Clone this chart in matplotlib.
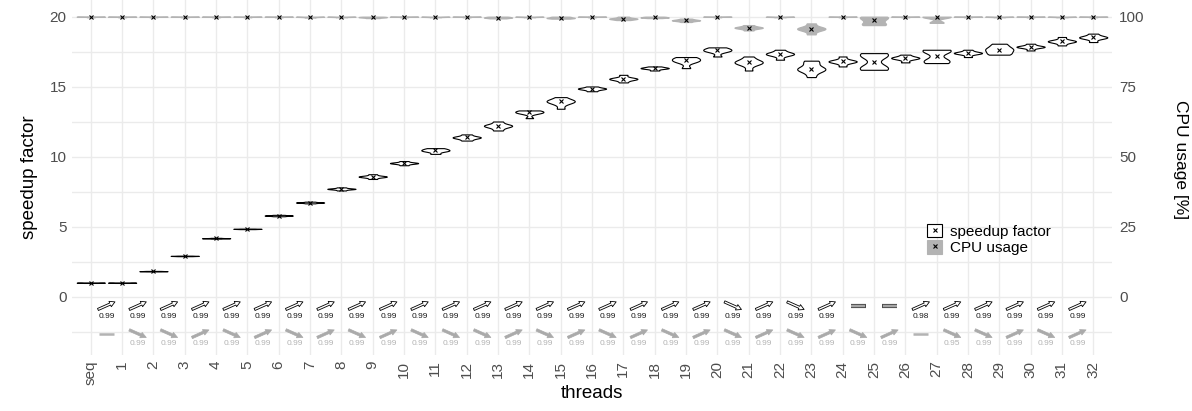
"""
Speedup factor and CPU usage per thread count (violins + trend arrows)
"""
import numpy as np
import matplotlib
matplotlib.use('Agg')
import matplotlib.pyplot as plt
from matplotlib.patches import Patch
from matplotlib.lines import Line2D
from matplotlib.transforms import offset_copy

plt.rcParams['font.family'] = ['Liberation Sans', 'DejaVu Sans']

# ── data ─────────────────────────────────────────
THREADS = ['seq'] + [str(i) for i in range(1, 33)]

# measured runs per thread count (speedup factor)
SPEEDUP_RUNS = [
    [1.00, 1.01, 1.02, 1.02, 1.03],            # seq
    [1.00, 1.01, 1.02, 1.02, 1.03],            # 1
    [1.82, 1.83, 1.84, 1.84, 1.85, 1.86],      # 2
    [2.91, 2.92, 2.93, 2.93, 2.94, 2.95],      # 3
    [4.16, 4.18, 4.19, 4.19, 4.20, 4.22],      # 4
    [4.84, 4.85, 4.86, 4.86, 4.87, 4.88],      # 5
    [5.76, 5.79, 5.81, 5.81, 5.83, 5.86],      # 6
    [6.68, 6.72, 6.74, 6.74, 6.76, 6.80],      # 7
    [7.60, 7.68, 7.71, 7.72, 7.74, 7.82],      # 8
    [8.42, 8.55, 8.58, 8.60, 8.63, 8.76],      # 9
    [9.40, 9.51, 9.55, 9.56, 9.59, 9.70],      # 10
    [10.21, 10.38, 10.44, 10.48, 10.55, 10.62],  # 11
    [11.16, 11.30, 11.37, 11.40, 11.45, 11.60],  # 12
    [11.88, 12.10, 12.20, 12.23, 12.30, 12.52],  # 13
    [12.76, 13.10, 13.15, 13.20, 13.27, 13.31],  # 14
    [13.43, 13.75, 13.90, 13.95, 14.00, 14.08, 14.26],  # 15
    [14.68, 14.80, 14.85, 14.88, 14.92, 15.02],  # 16
    [15.31, 15.50, 15.55, 15.58, 15.62, 15.85],  # 17
    [16.16, 16.28, 16.32, 16.34, 16.38, 16.45],  # 18
    [16.33, 16.75, 16.85, 16.92, 17.05, 17.12],  # 19
    [17.16, 17.50, 17.58, 17.62, 17.72, 17.81],  # 20
    [16.16, 16.55, 16.70, 16.74, 16.78, 16.92, 17.16],  # 21
    [16.93, 17.25, 17.32, 17.36, 17.42, 17.64],  # 22
    [15.69, 16.10, 16.22, 16.29, 16.36, 16.72, 16.86],  # 23
    [16.45, 16.75, 16.80, 16.82, 16.86, 17.16],  # 24
    [16.21, 16.30, 16.45, 17.15, 17.30, 17.40],  # 25
    [16.74, 16.98, 17.04, 17.07, 17.12, 17.29],  # 26
    [16.69, 16.80, 16.95, 17.50, 17.60, 17.64],  # 27
    [17.12, 17.35, 17.40, 17.42, 17.46, 17.64],  # 28
    [17.29, 17.40, 17.60, 17.68, 17.85, 18.07],  # 29
    [17.59, 17.80, 17.84, 17.86, 17.90, 18.07],  # 30
    [17.95, 18.18, 18.23, 18.26, 18.30, 18.55],  # 31
    [18.19, 18.45, 18.50, 18.54, 18.60, 18.79],  # 32
]

# measured runs per thread count (CPU usage, %)
CPU_RUNS = [
    [99.85, 99.95, 100.0, 100.0, 100.0],       # seq
    [99.85, 99.95, 100.0, 100.0, 100.0],       # 1
    [99.85, 99.95, 100.0, 100.0, 100.0],       # 2
    [99.85, 99.95, 100.0, 100.0, 100.0],       # 3
    [99.85, 99.95, 100.0, 100.0, 100.0],       # 4
    [99.85, 99.95, 100.0, 100.0, 100.0],       # 5
    [99.85, 99.95, 100.0, 100.0, 100.0],       # 6
    [99.70, 99.85, 99.95, 100.0, 100.0],       # 7
    [99.80, 99.90, 99.95, 100.0, 100.0],       # 8
    [99.50, 99.70, 99.80, 99.90, 100.0],       # 9
    [99.85, 99.95, 100.0, 100.0, 100.0],       # 10
    [99.80, 99.90, 99.95, 100.0, 100.0],       # 11
    [99.85, 99.95, 100.0, 100.0, 100.0],       # 12
    [99.40, 99.60, 99.70, 99.85, 100.0],       # 13
    [99.80, 99.90, 99.95, 100.0, 100.0],       # 14
    [99.30, 99.50, 99.60, 99.80, 100.0],       # 15
    [99.85, 99.95, 100.0, 100.0, 100.0],       # 16
    [98.80, 99.10, 99.25, 99.35, 99.60, 100.0],  # 17
    [99.50, 99.65, 99.70, 99.80, 99.90, 100.0],  # 18
    [98.10, 98.50, 98.65, 98.75, 98.95, 99.30],  # 19
    [99.85, 99.95, 100.0, 100.0, 100.0],       # 20
    [95.10, 95.80, 96.00, 96.15, 96.40, 97.00],  # 21
    [99.80, 99.90, 99.95, 100.0, 100.0],       # 22
    [93.70, 95.20, 95.60, 95.80, 96.20, 97.60],  # 23
    [99.85, 99.95, 100.0, 100.0, 100.0],       # 24
    [97.00, 97.30, 98.30, 99.10, 99.90, 100.0],  # 25
    [99.85, 99.95, 100.0, 100.0, 100.0],       # 26
    [97.80, 98.00, 99.90, 100.0, 100.0, 100.0],  # 27
    [99.85, 99.95, 100.0, 100.0, 100.0],       # 28
    [99.80, 99.90, 99.95, 100.0, 100.0],       # 29
    [99.85, 99.95, 100.0, 100.0, 100.0],       # 30
    [99.80, 99.90, 99.95, 100.0, 100.0],       # 31
    [99.85, 99.95, 100.0, 100.0, 100.0],       # 32
]

# trend between neighbouring thread counts: 1 up, -1 down, 0 no change
SPEEDUP_TREND = [1, 1, 1, 1, 1, 1, 1, 1, 1, 1, 1, 1, 1, 1, 1, 1, 1, 1, 1, 1,
                 -1, 1, -1, 1, 0, 0, 1, 1, 1, 1, 1, 1]
SPEEDUP_P = [0.99] * 24 + [None, None, 0.98, 0.99, 0.99, 0.99, 0.99, 0.99]

CPU_TREND = [0, -1, -1, 1, -1, 1, -1, 1, -1, 1, -1, -1, -1, 1, -1, 1, -1, 1,
             -1, 1, -1, 1, -1, 1, -1, 1, 0, -1, -1, 1, -1, 1]
CPU_P = [None] + [0.99] * 25 + [None, 0.95, 0.99, 0.99, 0.99, 0.99]

CPU_SCALE = 5  # 100 % on the right axis == 20 on the left axis

# ── figure ───────────────────────────────────────
GRID = '#ebebeb'
TICK = '#4d4d4d'
GREY = '#b3b3b3'

fig = plt.figure(figsize=(11.92, 4.11), dpi=100)
ax = fig.add_axes([72 / 1192, 56 / 411, 1040 / 1192, 355 / 411])
pos = np.arange(len(THREADS))

# CPU usage violins (grey)
vp_cpu = ax.violinplot([np.array(r) / CPU_SCALE for r in CPU_RUNS], positions=pos,
                       widths=0.9, showextrema=False, bw_method=0.5)
for b in vp_cpu['bodies']:
    b.set_facecolor(GREY)
    b.set_edgecolor(GREY)
    b.set_linewidth(0.9)
    b.set_alpha(1)
    b.set_zorder(2)

# speedup violins (white, black outline)
vp_sp = ax.violinplot(SPEEDUP_RUNS, positions=pos, widths=0.9, showextrema=False,
                      bw_method=0.5)
for b in vp_sp['bodies']:
    b.set_facecolor('white')
    b.set_edgecolor('black')
    b.set_linewidth(0.8)
    b.set_alpha(1)
    b.set_zorder(3)

ax.plot(pos, [np.median(r) / CPU_SCALE for r in CPU_RUNS], 'x', color='black',
        ms=2.8, mew=0.8, zorder=4)
ax.plot(pos, [np.median(r) for r in SPEEDUP_RUNS], 'x', color='black',
        ms=2.8, mew=0.8, zorder=4)


# ── trend arrows between neighbours ──────────────
def trend_row(trends, pvals, y_arrow, y_text, solid):
    for i, (t, p) in enumerate(zip(trends, pvals)):
        xc = i + 0.5
        if t == 0:
            if solid:
                ax.plot([xc - 0.24, xc + 0.24], [y_arrow, y_arrow], color=GREY,
                        lw=1.8, solid_capstyle='butt', zorder=3)
            else:
                ax.plot([xc - 0.24, xc + 0.24], [y_arrow, y_arrow], color='#4d4d4d',
                        lw=3.0, solid_capstyle='butt', zorder=3)
                ax.plot([xc - 0.225, xc + 0.225], [y_arrow, y_arrow], color='#a6a6a6',
                        lw=1.6, solid_capstyle='butt', zorder=3)
        else:
            dx, dy = 8.5, 3.8 * t
            tip = offset_copy(ax.transData, fig=fig, x=dx, y=dy, units='dots')
            tail = offset_copy(ax.transData, fig=fig, x=-dx, y=-dy, units='dots')
            if solid:
                props = dict(arrowstyle='simple,head_length=0.42,head_width=0.42,tail_width=0.18',
                             fc='#aaaaaa', ec='#aaaaaa', lw=0.5, shrinkA=0, shrinkB=0)
            else:
                props = dict(arrowstyle='simple,head_length=0.38,head_width=0.42,tail_width=0.16',
                             fc='white', ec='black', lw=0.6, shrinkA=0, shrinkB=0)
            ax.annotate('', xy=(xc, y_arrow), xycoords=tip,
                        xytext=(xc, y_arrow), textcoords=tail,
                        arrowprops=dict(props, mutation_scale=10), zorder=3)
        if p is not None:
            ax.text(xc, y_text, f'{p:.2f}', ha='center', va='center', fontsize=6,
                    color=GREY if solid else '#1a1a1a', zorder=3)


trend_row(SPEEDUP_TREND, SPEEDUP_P, -0.62, -1.42, solid=False)
trend_row(CPU_TREND, CPU_P, -2.62, -3.32, solid=True)

# ── axes styling ─────────────────────────────────
ax.set_xlim(-0.6, len(THREADS) - 0.4)
ax.set_ylim(-4.14, 21.19)
ax.set_xticks(pos)
ax.set_xticklabels(THREADS, rotation=90, fontsize=11, color=TICK)
ax.set_yticks([0, 5, 10, 15, 20])
ax.set_yticks([-2.5, 2.5, 7.5, 12.5, 17.5], minor=True)
ax.tick_params(axis='both', which='both', length=0, labelsize=11, labelcolor=TICK)
ax.tick_params(axis='y', pad=4)
ax.tick_params(axis='x', pad=4)
ax.grid(True, which='major', color=GRID, lw=1.0, zorder=0)
ax.grid(True, which='minor', axis='y', color=GRID, lw=1.0, zorder=0)
ax.set_axisbelow(True)
for s in ax.spines.values():
    s.set_visible(False)

ax.set_xlabel('threads', fontsize=13.5, labelpad=0)
ax.set_ylabel('speedup factor', fontsize=13.5, labelpad=8)

sec = ax.secondary_yaxis('right', functions=(lambda y: y * CPU_SCALE, lambda y: y / CPU_SCALE))
sec.set_yticks([0, 25, 50, 75, 100])
sec.tick_params(length=0, labelsize=11, labelcolor=TICK, pad=5)
for s in sec.spines.values():
    s.set_visible(False)
sec.set_ylabel('CPU usage [%]', fontsize=12.5, rotation=-90, va='center')
sec.yaxis.set_label_coords(1.066, 0.55, transform=ax.transAxes)

# ── legend ───────────────────────────────────────
mark = Line2D([], [], marker='x', ls='', color='black', ms=2.8, mew=0.8)
handles = [(Patch(fc='white', ec='black', lw=0.8), mark),
           (Patch(fc=GREY, ec=GREY, lw=0.8), mark)]
ax.legend(handles, ['speedup factor', 'CPU usage'], loc='upper left',
          bbox_to_anchor=(0.822, 0.37), frameon=False, fontsize=11,
          handlelength=1.0, handleheight=1.0, handletextpad=0.5,
          labelspacing=0.1, borderpad=0, borderaxespad=0)

fig.savefig('out.png', dpi=100)
plt.close(fig)
